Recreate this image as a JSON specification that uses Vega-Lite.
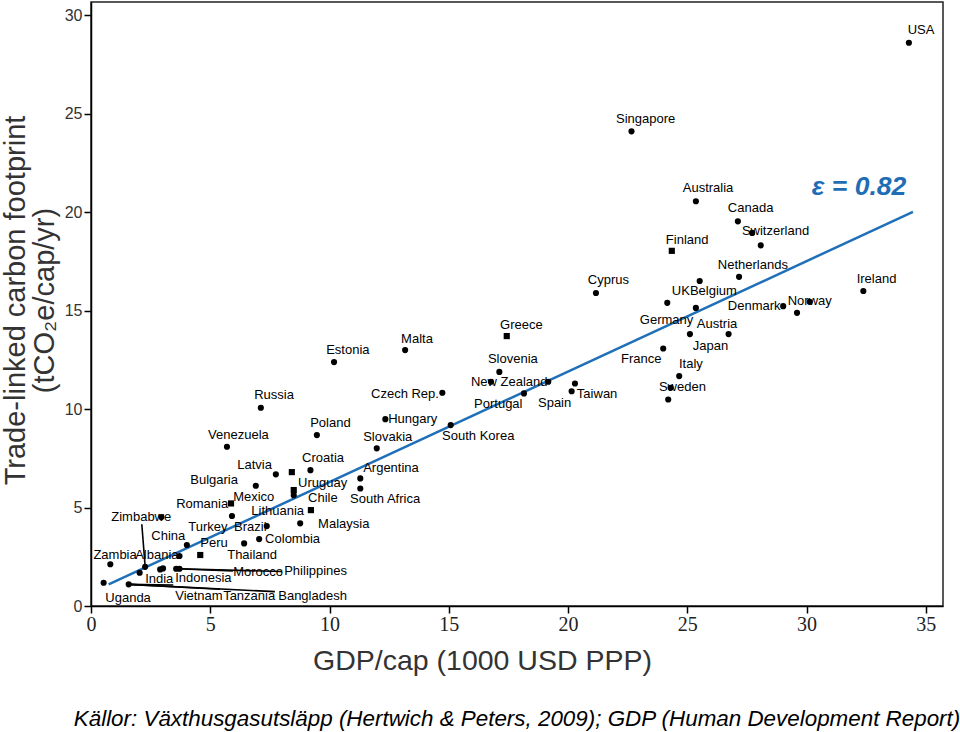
{
  "$schema": "https://vega.github.io/schema/vega-lite/v6.json",
  "width": 852,
  "height": 604,
  "autosize": {"type": "none"},
  "padding": {"left": 91, "top": 2, "right": 17, "bottom": 126},
  "background": "white",
  "config": {
    "view": {"stroke": "#222", "strokeWidth": 1.5},
    "font": "Liberation Sans"
  },
  "title": {
    "text": "Källor: Växthusgasutsläpp (Hertwich & Peters, 2009); GDP (Human Development Report)",
    "orient": "bottom",
    "anchor": "middle",
    "frame": "group",
    "offset": 33,
    "font": "Liberation Sans",
    "fontSize": 22.4,
    "fontStyle": "italic",
    "fontWeight": "normal",
    "color": "black"
  },
  "datasets": {
    "points": [
      {"country": "USA", "gdp": 34.29, "cf": 28.61, "m": "circle"},
      {"country": "Singapore", "gdp": 22.66, "cf": 24.11, "m": "circle"},
      {"country": "Australia", "gdp": 25.36, "cf": 20.56, "m": "circle"},
      {"country": "Canada", "gdp": 27.12, "cf": 19.54, "m": "circle"},
      {"country": "Switzerland", "gdp": 28.08, "cf": 18.32, "m": "circle"},
      {"country": "unlabelled", "gdp": 27.72, "cf": 18.95, "m": "circle"},
      {"country": "Finland", "gdp": 24.35, "cf": 18.04, "m": "square"},
      {"country": "Netherlands", "gdp": 27.17, "cf": 16.72, "m": "circle"},
      {"country": "UK", "gdp": 25.52, "cf": 16.51, "m": "circle"},
      {"country": "Ireland", "gdp": 32.38, "cf": 16.0, "m": "circle"},
      {"country": "Cyprus", "gdp": 21.17, "cf": 15.9, "m": "circle"},
      {"country": "Germany", "gdp": 24.16, "cf": 15.4, "m": "circle"},
      {"country": "Belgium", "gdp": 25.36, "cf": 15.14, "m": "circle"},
      {"country": "Denmark", "gdp": 29.02, "cf": 15.23, "m": "circle"},
      {"country": "Norway", "gdp": 29.6, "cf": 14.89, "m": "circle"},
      {"country": "unlabelled", "gdp": 30.13, "cf": 15.45, "m": "circle"},
      {"country": "Austria", "gdp": 25.11, "cf": 13.81, "m": "circle"},
      {"country": "Japan", "gdp": 26.73, "cf": 13.81, "m": "circle"},
      {"country": "France", "gdp": 23.99, "cf": 13.08, "m": "circle"},
      {"country": "Italy", "gdp": 24.66, "cf": 11.68, "m": "circle"},
      {"country": "Sweden", "gdp": 24.2, "cf": 10.49, "m": "circle"},
      {"country": "unlabelled", "gdp": 24.3, "cf": 11.08, "m": "circle"},
      {"country": "Greece", "gdp": 17.43, "cf": 13.71, "m": "square"},
      {"country": "Malta", "gdp": 13.17, "cf": 13.0, "m": "circle"},
      {"country": "Estonia", "gdp": 10.19, "cf": 12.39, "m": "circle"},
      {"country": "Slovenia", "gdp": 17.12, "cf": 11.89, "m": "circle"},
      {"country": "unlabelled", "gdp": 16.77, "cf": 11.39, "m": "circle"},
      {"country": "New Zealand", "gdp": 19.17, "cf": 11.39, "m": "circle"},
      {"country": "Portugal", "gdp": 18.15, "cf": 10.8, "m": "circle"},
      {"country": "Spain", "gdp": 20.29, "cf": 11.3, "m": "circle"},
      {"country": "Taiwan", "gdp": 20.15, "cf": 10.91, "m": "circle"},
      {"country": "Czech Rep.", "gdp": 14.73, "cf": 10.83, "m": "circle"},
      {"country": "Hungary", "gdp": 12.34, "cf": 9.49, "m": "circle"},
      {"country": "South Korea", "gdp": 15.08, "cf": 9.19, "m": "circle"},
      {"country": "Slovakia", "gdp": 11.98, "cf": 8.01, "m": "circle"},
      {"country": "Russia", "gdp": 7.12, "cf": 10.07, "m": "circle"},
      {"country": "Poland", "gdp": 9.47, "cf": 8.68, "m": "circle"},
      {"country": "Venezuela", "gdp": 5.7, "cf": 8.09, "m": "circle"},
      {"country": "Argentina", "gdp": 11.29, "cf": 6.48, "m": "circle"},
      {"country": "South Africa", "gdp": 11.29, "cf": 5.97, "m": "circle"},
      {"country": "Croatia", "gdp": 9.2, "cf": 6.9, "m": "circle"},
      {"country": "unlabelled", "gdp": 8.42, "cf": 6.8, "m": "square"},
      {"country": "Latvia", "gdp": 7.75, "cf": 6.69, "m": "circle"},
      {"country": "Bulgaria", "gdp": 6.91, "cf": 6.11, "m": "circle"},
      {"country": "Uruguay", "gdp": 8.5, "cf": 5.89, "m": "square"},
      {"country": "Chile", "gdp": 8.5, "cf": 5.63, "m": "circle"},
      {"country": "Lithuania", "gdp": 9.22, "cf": 4.87, "m": "square"},
      {"country": "Romania", "gdp": 5.87, "cf": 5.21, "m": "square"},
      {"country": "Mexico", "gdp": 5.91, "cf": 4.57, "m": "circle"},
      {"country": "Brazil", "gdp": 7.37, "cf": 4.06, "m": "circle"},
      {"country": "Malaysia", "gdp": 8.77, "cf": 4.2, "m": "circle"},
      {"country": "Colombia", "gdp": 7.05, "cf": 3.4, "m": "circle"},
      {"country": "Peru", "gdp": 6.42, "cf": 3.18, "m": "circle"},
      {"country": "China", "gdp": 4.02, "cf": 3.1, "m": "circle"},
      {"country": "Thailand", "gdp": 4.58, "cf": 2.59, "m": "square"},
      {"country": "Albania", "gdp": 3.71, "cf": 2.54, "m": "circle"},
      {"country": "Zimbabwe", "gdp": 2.95, "cf": 4.52, "m": "circle"},
      {"country": "Zambia", "gdp": 0.81, "cf": 2.12, "m": "circle"},
      {"country": "unlabelled", "gdp": 2.27, "cf": 1.99, "m": "circle"},
      {"country": "unlabelled", "gdp": 2.04, "cf": 1.69, "m": "circle"},
      {"country": "India", "gdp": 2.9, "cf": 1.86, "m": "circle"},
      {"country": "unlabelled", "gdp": 3.02, "cf": 1.91, "m": "circle"},
      {"country": "Indonesia", "gdp": 3.57, "cf": 1.89, "m": "circle"},
      {"country": "Philippines", "gdp": 3.71, "cf": 1.89, "m": "circle"},
      {"country": "Uganda", "gdp": 0.53, "cf": 1.18, "m": "circle"},
      {"country": "Vietnam", "gdp": 1.58, "cf": 1.1, "m": "circle"}
    ],
    "labels": [
      {"label": "USA", "lx": 34.24, "ly": 29.24},
      {"label": "Singapore", "lx": 22.01, "ly": 24.72},
      {"label": "Australia", "lx": 24.81, "ly": 21.22},
      {"label": "Canada", "lx": 26.7, "ly": 20.2},
      {"label": "Switzerland", "lx": 27.29, "ly": 19.04},
      {"label": "Finland", "lx": 24.1, "ly": 18.58},
      {"label": "Netherlands", "lx": 26.28, "ly": 17.31},
      {"label": "Cyprus", "lx": 20.83, "ly": 16.55},
      {"label": "Ireland", "lx": 32.1, "ly": 16.6},
      {"label": "UK", "lx": 24.35, "ly": 15.99},
      {"label": "Belgium", "lx": 25.11, "ly": 15.99},
      {"label": "Denmark", "lx": 26.7, "ly": 15.23},
      {"label": "Norway", "lx": 29.21, "ly": 15.48},
      {"label": "Germany", "lx": 23.01, "ly": 14.52},
      {"label": "Austria", "lx": 25.4, "ly": 14.31},
      {"label": "Japan", "lx": 25.23, "ly": 13.2},
      {"label": "France", "lx": 22.22, "ly": 12.54},
      {"label": "Italy", "lx": 24.65, "ly": 12.28},
      {"label": "Sweden", "lx": 23.81, "ly": 11.12},
      {"label": "Greece", "lx": 17.15, "ly": 14.26},
      {"label": "Malta", "lx": 13.0, "ly": 13.55},
      {"label": "Estonia", "lx": 9.86, "ly": 12.99},
      {"label": "Slovenia", "lx": 16.64, "ly": 12.54},
      {"label": "New Zealand", "lx": 15.93, "ly": 11.37},
      {"label": "Portugal", "lx": 16.06, "ly": 10.25},
      {"label": "Spain", "lx": 18.74, "ly": 10.3},
      {"label": "Taiwan", "lx": 20.37, "ly": 10.76},
      {"label": "Czech Rep.", "lx": 11.74, "ly": 10.76},
      {"label": "Hungary", "lx": 12.46, "ly": 9.49},
      {"label": "South Korea", "lx": 14.72, "ly": 8.63},
      {"label": "Slovakia", "lx": 11.41, "ly": 8.58},
      {"label": "Russia", "lx": 6.84, "ly": 10.71},
      {"label": "Poland", "lx": 9.19, "ly": 9.29},
      {"label": "Venezuela", "lx": 4.91, "ly": 8.68},
      {"label": "Croatia", "lx": 8.85, "ly": 7.51},
      {"label": "Latvia", "lx": 6.13, "ly": 7.16},
      {"label": "Argentina", "lx": 11.41, "ly": 7.01},
      {"label": "Bulgaria", "lx": 4.16, "ly": 6.4},
      {"label": "Uruguay", "lx": 8.68, "ly": 6.24},
      {"label": "Mexico", "lx": 5.96, "ly": 5.53},
      {"label": "Chile", "lx": 9.1, "ly": 5.48},
      {"label": "South Africa", "lx": 10.86, "ly": 5.43},
      {"label": "Romania", "lx": 3.57, "ly": 5.18},
      {"label": "Zimbabwe", "lx": 0.85, "ly": 4.52},
      {"label": "Lithuania", "lx": 6.72, "ly": 4.82},
      {"label": "Turkey", "lx": 4.08, "ly": 4.01},
      {"label": "Brazil", "lx": 6.0, "ly": 4.01},
      {"label": "Malaysia", "lx": 9.52, "ly": 4.16},
      {"label": "China", "lx": 2.53, "ly": 3.55},
      {"label": "Peru", "lx": 4.58, "ly": 3.2},
      {"label": "Colombia", "lx": 7.3, "ly": 3.4},
      {"label": "Zambia", "lx": 0.1, "ly": 2.59},
      {"label": "Albania", "lx": 1.85, "ly": 2.59},
      {"label": "Thailand", "lx": 5.71, "ly": 2.59},
      {"label": "India", "lx": 2.27, "ly": 1.37},
      {"label": "Indonesia", "lx": 3.53, "ly": 1.42},
      {"label": "Morocco", "lx": 5.96, "ly": 1.73},
      {"label": "Philippines", "lx": 8.1, "ly": 1.78},
      {"label": "Uganda", "lx": 0.6, "ly": 0.41},
      {"label": "Vietnam", "lx": 3.53, "ly": 0.51},
      {"label": "Tanzania", "lx": 5.54, "ly": 0.51},
      {"label": "Bangladesh", "lx": 7.85, "ly": 0.51}
    ],
    "leaders": [
      {"gdp": 2.13, "cf": 4.15, "gdp2": 2.27, "cf2": 2.0},
      {"gdp": 1.58, "cf": 1.1, "gdp2": 3.45, "cf2": 1.07},
      {"gdp": 1.58, "cf": 1.1, "gdp2": 5.41, "cf2": 0.85},
      {"gdp": 1.58, "cf": 1.1, "gdp2": 7.71, "cf2": 0.73},
      {"gdp": 3.57, "cf": 1.89, "gdp2": 5.95, "cf2": 1.78},
      {"gdp": 3.71, "cf": 1.89, "gdp2": 8.0, "cf2": 1.75}
    ],
    "fit": [
      {"gdp": 0.74, "cf": 1.1},
      {"gdp": 34.46, "cf": 20.02}
    ],
    "note": [
      {"text": "ε = 0.82", "gdp": 30.22, "cf": 21.28}
    ]
  },
  "layer": [
    {
      "data": {"name": "leaders"},
      "mark": {"type": "rule", "color": "black", "strokeWidth": 1.6},
      "encoding": {
        "x": {"field": "gdp", "type": "quantitative"},
        "y": {"field": "cf", "type": "quantitative"},
        "x2": {"field": "gdp2"},
        "y2": {"field": "cf2"}
      }
    },
    {
      "data": {"name": "fit"},
      "mark": {"type": "line", "color": "#1f70b8", "strokeWidth": 2.5},
      "encoding": {
        "x": {"field": "gdp", "type": "quantitative"},
        "y": {"field": "cf", "type": "quantitative"}
      }
    },
    {
      "data": {"name": "points"},
      "mark": {"type": "point", "filled": true, "color": "black", "opacity": 1, "size": 38},
      "encoding": {
        "x": {
          "field": "gdp", "type": "quantitative",
          "scale": {"domain": [0, 35.72], "nice": false, "zero": false},
          "axis": {
            "values": [0, 5, 10, 15, 20, 25, 30, 35],
            "grid": false,
            "domainColor": "black", "domainWidth": 1.5,
            "tickColor": "black", "tickSize": 7, "tickWidth": 1.5,
            "labelFont": "Liberation Sans Narrow", "labelFontSize": 20,
            "labelColor": "#222", "labelPadding": 1, "labelFlush": false,
            "title": "GDP/cap (1000 USD PPP)",
            "titleFont": "Liberation Sans", "titleFontSize": 28.5,
            "titleFontWeight": "normal", "titleColor": "#333",
            "titleX": 391, "titleY": 54, "titleBaseline": "middle", "titleAlign": "center"
          }
        },
        "y": {
          "field": "cf", "type": "quantitative",
          "scale": {"domain": [0, 30.68], "nice": false, "zero": false},
          "axis": {
            "values": [0, 5, 10, 15, 20, 25, 30],
            "grid": false,
            "domainColor": "black", "domainWidth": 1.5,
            "tickColor": "black", "tickSize": 7, "tickWidth": 1.5,
            "labelFont": "Liberation Sans", "labelFontSize": 16,
            "labelColor": "#333", "labelPadding": 2,
            "title": ["Trade-linked carbon footprint", "(tCO₂e/cap/yr)"],
            "titleFont": "Liberation Sans", "titleFontSize": 29,
            "titleFontWeight": "normal", "titleColor": "#333",
            "titleLineHeight": 29,
            "titleX": -76, "titleY": 298, "titleBaseline": "middle", "titleAlign": "center", "titleAngle": -90
          }
        },
        "shape": {
          "field": "m", "type": "nominal",
          "scale": {"domain": ["circle", "square"], "range": ["circle", "square"]},
          "legend": null
        }
      }
    },
    {
      "data": {"name": "labels"},
      "mark": {"type": "text", "align": "left", "baseline": "middle", "font": "Liberation Sans", "fontSize": 13, "color": "black"},
      "encoding": {
        "x": {"field": "lx", "type": "quantitative"},
        "y": {"field": "ly", "type": "quantitative"},
        "text": {"field": "label"}
      }
    },
    {
      "data": {"name": "note"},
      "mark": {"type": "text", "align": "left", "baseline": "middle", "font": "Liberation Sans", "fontSize": 26.5, "fontStyle": "italic", "fontWeight": "bold", "color": "#1f6db4"},
      "encoding": {
        "x": {"field": "gdp", "type": "quantitative"},
        "y": {"field": "cf", "type": "quantitative"},
        "text": {"field": "text"}
      }
    }
  ]
}
